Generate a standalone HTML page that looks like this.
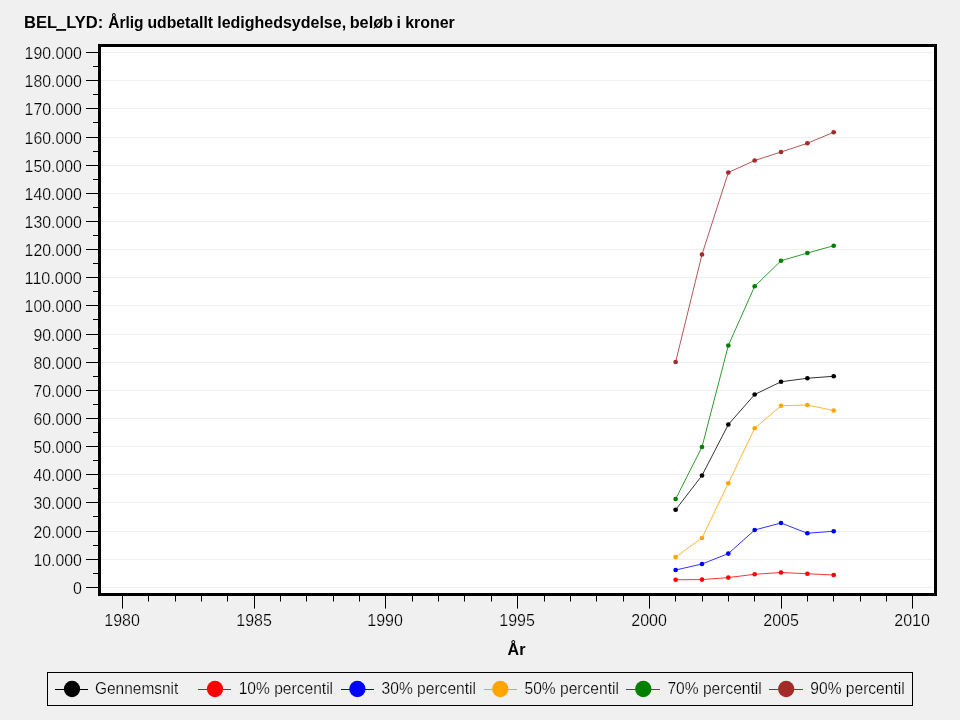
<!DOCTYPE html>
<html><head><meta charset="utf-8"><title>BEL_LYD</title>
<style>
html,body{margin:0;padding:0;background:#f0f0f0;}
svg{display:block;font-family:"Liberation Sans",sans-serif;}
</style></head><body>
<svg width="960" height="720" viewBox="0 0 960 720">
<rect x="0" y="0" width="960" height="720" fill="#f0f0f0"/>
<rect x="99.5" y="45.5" width="836" height="549" fill="#ffffff" stroke="#000" stroke-width="3" shape-rendering="crispEdges"/>

<g stroke="#edf0ed" stroke-width="1" shape-rendering="crispEdges">
<line x1="101" x2="933" y1="587.5" y2="587.5"/>
<line x1="101" x2="933" y1="559.5" y2="559.5"/>
<line x1="101" x2="933" y1="531.5" y2="531.5"/>
<line x1="101" x2="933" y1="502.5" y2="502.5"/>
<line x1="101" x2="933" y1="474.5" y2="474.5"/>
<line x1="101" x2="933" y1="446.5" y2="446.5"/>
<line x1="101" x2="933" y1="418.5" y2="418.5"/>
<line x1="101" x2="933" y1="390.5" y2="390.5"/>
<line x1="101" x2="933" y1="362.5" y2="362.5"/>
<line x1="101" x2="933" y1="334.5" y2="334.5"/>
<line x1="101" x2="933" y1="305.5" y2="305.5"/>
<line x1="101" x2="933" y1="277.5" y2="277.5"/>
<line x1="101" x2="933" y1="249.5" y2="249.5"/>
<line x1="101" x2="933" y1="221.5" y2="221.5"/>
<line x1="101" x2="933" y1="193.5" y2="193.5"/>
<line x1="101" x2="933" y1="165.5" y2="165.5"/>
<line x1="101" x2="933" y1="137.5" y2="137.5"/>
<line x1="101" x2="933" y1="108.5" y2="108.5"/>
<line x1="101" x2="933" y1="80.5" y2="80.5"/>
<line x1="101" x2="933" y1="52.5" y2="52.5"/>
</g>
<g stroke="#000" stroke-width="1" shape-rendering="crispEdges">
<line x1="86" x2="98" y1="587.5" y2="587.5"/>
<line x1="93" x2="98" y1="573.5" y2="573.5"/>
<line x1="86" x2="98" y1="559.5" y2="559.5"/>
<line x1="93" x2="98" y1="545.5" y2="545.5"/>
<line x1="86" x2="98" y1="531.5" y2="531.5"/>
<line x1="93" x2="98" y1="516.5" y2="516.5"/>
<line x1="86" x2="98" y1="502.5" y2="502.5"/>
<line x1="93" x2="98" y1="488.5" y2="488.5"/>
<line x1="86" x2="98" y1="474.5" y2="474.5"/>
<line x1="93" x2="98" y1="460.5" y2="460.5"/>
<line x1="86" x2="98" y1="446.5" y2="446.5"/>
<line x1="93" x2="98" y1="432.5" y2="432.5"/>
<line x1="86" x2="98" y1="418.5" y2="418.5"/>
<line x1="93" x2="98" y1="404.5" y2="404.5"/>
<line x1="86" x2="98" y1="390.5" y2="390.5"/>
<line x1="93" x2="98" y1="376.5" y2="376.5"/>
<line x1="86" x2="98" y1="362.5" y2="362.5"/>
<line x1="93" x2="98" y1="348.5" y2="348.5"/>
<line x1="86" x2="98" y1="334.5" y2="334.5"/>
<line x1="93" x2="98" y1="319.5" y2="319.5"/>
<line x1="86" x2="98" y1="305.5" y2="305.5"/>
<line x1="93" x2="98" y1="291.5" y2="291.5"/>
<line x1="86" x2="98" y1="277.5" y2="277.5"/>
<line x1="93" x2="98" y1="263.5" y2="263.5"/>
<line x1="86" x2="98" y1="249.5" y2="249.5"/>
<line x1="93" x2="98" y1="235.5" y2="235.5"/>
<line x1="86" x2="98" y1="221.5" y2="221.5"/>
<line x1="93" x2="98" y1="207.5" y2="207.5"/>
<line x1="86" x2="98" y1="193.5" y2="193.5"/>
<line x1="93" x2="98" y1="179.5" y2="179.5"/>
<line x1="86" x2="98" y1="165.5" y2="165.5"/>
<line x1="93" x2="98" y1="151.5" y2="151.5"/>
<line x1="86" x2="98" y1="137.5" y2="137.5"/>
<line x1="93" x2="98" y1="122.5" y2="122.5"/>
<line x1="86" x2="98" y1="108.5" y2="108.5"/>
<line x1="93" x2="98" y1="94.5" y2="94.5"/>
<line x1="86" x2="98" y1="80.5" y2="80.5"/>
<line x1="93" x2="98" y1="66.5" y2="66.5"/>
<line x1="86" x2="98" y1="52.5" y2="52.5"/>
<line x1="122.5" x2="122.5" y1="596" y2="608.6" shape-rendering="auto"/>
<line x1="148.5" x2="148.5" y1="596" y2="601.5" shape-rendering="auto"/>
<line x1="175.5" x2="175.5" y1="596" y2="601.5" shape-rendering="auto"/>
<line x1="201.5" x2="201.5" y1="596" y2="601.5" shape-rendering="auto"/>
<line x1="227.5" x2="227.5" y1="596" y2="601.5" shape-rendering="auto"/>
<line x1="254.5" x2="254.5" y1="596" y2="608.6" shape-rendering="auto"/>
<line x1="280.5" x2="280.5" y1="596" y2="601.5" shape-rendering="auto"/>
<line x1="306.5" x2="306.5" y1="596" y2="601.5" shape-rendering="auto"/>
<line x1="333.5" x2="333.5" y1="596" y2="601.5" shape-rendering="auto"/>
<line x1="359.5" x2="359.5" y1="596" y2="601.5" shape-rendering="auto"/>
<line x1="385.5" x2="385.5" y1="596" y2="608.6" shape-rendering="auto"/>
<line x1="412.5" x2="412.5" y1="596" y2="601.5" shape-rendering="auto"/>
<line x1="438.5" x2="438.5" y1="596" y2="601.5" shape-rendering="auto"/>
<line x1="464.5" x2="464.5" y1="596" y2="601.5" shape-rendering="auto"/>
<line x1="491.5" x2="491.5" y1="596" y2="601.5" shape-rendering="auto"/>
<line x1="517.5" x2="517.5" y1="596" y2="608.6" shape-rendering="auto"/>
<line x1="544.5" x2="544.5" y1="596" y2="601.5" shape-rendering="auto"/>
<line x1="570.5" x2="570.5" y1="596" y2="601.5" shape-rendering="auto"/>
<line x1="596.5" x2="596.5" y1="596" y2="601.5" shape-rendering="auto"/>
<line x1="623.5" x2="623.5" y1="596" y2="601.5" shape-rendering="auto"/>
<line x1="649.5" x2="649.5" y1="596" y2="608.6" shape-rendering="auto"/>
<line x1="675.5" x2="675.5" y1="596" y2="601.5" shape-rendering="auto"/>
<line x1="702.5" x2="702.5" y1="596" y2="601.5" shape-rendering="auto"/>
<line x1="728.5" x2="728.5" y1="596" y2="601.5" shape-rendering="auto"/>
<line x1="754.5" x2="754.5" y1="596" y2="601.5" shape-rendering="auto"/>
<line x1="781.5" x2="781.5" y1="596" y2="608.6" shape-rendering="auto"/>
<line x1="807.5" x2="807.5" y1="596" y2="601.5" shape-rendering="auto"/>
<line x1="833.5" x2="833.5" y1="596" y2="601.5" shape-rendering="auto"/>
<line x1="860.5" x2="860.5" y1="596" y2="601.5" shape-rendering="auto"/>
<line x1="886.5" x2="886.5" y1="596" y2="601.5" shape-rendering="auto"/>
<line x1="912.5" x2="912.5" y1="596" y2="608.6" shape-rendering="auto"/>
</g>
<g font-size="16" fill="#000" text-anchor="end" stroke="#f0f0f0" stroke-width="0.22">
<text x="81.8" y="594.00" textLength="8.9" lengthAdjust="spacingAndGlyphs">0</text>
<text x="81.8" y="566.00" textLength="48.4" lengthAdjust="spacingAndGlyphs">10.000</text>
<text x="81.8" y="538.00" textLength="48.4" lengthAdjust="spacingAndGlyphs">20.000</text>
<text x="81.8" y="509.00" textLength="48.4" lengthAdjust="spacingAndGlyphs">30.000</text>
<text x="81.8" y="481.00" textLength="48.4" lengthAdjust="spacingAndGlyphs">40.000</text>
<text x="81.8" y="453.00" textLength="48.4" lengthAdjust="spacingAndGlyphs">50.000</text>
<text x="81.8" y="425.00" textLength="48.4" lengthAdjust="spacingAndGlyphs">60.000</text>
<text x="81.8" y="397.00" textLength="48.4" lengthAdjust="spacingAndGlyphs">70.000</text>
<text x="81.8" y="369.00" textLength="48.4" lengthAdjust="spacingAndGlyphs">80.000</text>
<text x="81.8" y="341.00" textLength="48.4" lengthAdjust="spacingAndGlyphs">90.000</text>
<text x="81.8" y="312.00" textLength="57.2" lengthAdjust="spacingAndGlyphs">100.000</text>
<text x="81.8" y="284.00" textLength="57.2" lengthAdjust="spacingAndGlyphs">110.000</text>
<text x="81.8" y="256.00" textLength="57.2" lengthAdjust="spacingAndGlyphs">120.000</text>
<text x="81.8" y="228.00" textLength="57.2" lengthAdjust="spacingAndGlyphs">130.000</text>
<text x="81.8" y="200.00" textLength="57.2" lengthAdjust="spacingAndGlyphs">140.000</text>
<text x="81.8" y="172.00" textLength="57.2" lengthAdjust="spacingAndGlyphs">150.000</text>
<text x="81.8" y="144.00" textLength="57.2" lengthAdjust="spacingAndGlyphs">160.000</text>
<text x="81.8" y="115.00" textLength="57.2" lengthAdjust="spacingAndGlyphs">170.000</text>
<text x="81.8" y="87.00" textLength="57.2" lengthAdjust="spacingAndGlyphs">180.000</text>
<text x="81.8" y="59.00" textLength="57.2" lengthAdjust="spacingAndGlyphs">190.000</text>
</g>
<g font-size="16" fill="#000" text-anchor="middle" stroke="#f0f0f0" stroke-width="0.22">
<text x="122.10" y="626">1980</text>
<text x="254.10" y="626">1985</text>
<text x="385.10" y="626">1990</text>
<text x="517.10" y="626">1995</text>
<text x="649.10" y="626">2000</text>
<text x="781.10" y="626">2005</text>
<text x="912.10" y="626">2010</text>
</g>
<g font-size="16" font-weight="bold" fill="#000">
<text x="24" y="27.8" textLength="79.3" lengthAdjust="spacingAndGlyphs">BEL_LYD:</text>
<text x="108.2" y="27.8" textLength="35.35" lengthAdjust="spacingAndGlyphs">Årlig</text>
<text x="147.4" y="27.8" textLength="65.7" lengthAdjust="spacingAndGlyphs">udbetallt</text>
<text x="217.2" y="27.8" textLength="128.9" lengthAdjust="spacingAndGlyphs">ledighedsydelse,</text>
<text x="349.7" y="27.8" textLength="43.3" lengthAdjust="spacingAndGlyphs">beløb</text>
<text x="396.4" y="27.8" textLength="4.45" lengthAdjust="spacingAndGlyphs">i</text>
<text x="405.2" y="27.8" textLength="49.6" lengthAdjust="spacingAndGlyphs">kroner</text>
</g>
<rect x="56" y="29.2" width="10" height="1.6" fill="#000"/>
<text x="516.5" y="655" font-size="16" font-weight="bold" text-anchor="middle">År</text>
<polyline points="675.64,509.75 701.99,475.5 728.33,424.5 754.68,394.5 781.02,381.75 807.37,378.25 833.71,376.25" fill="none" stroke="#000000" stroke-width="1" stroke-opacity="0.8"/>
<circle cx="675.64" cy="509.75" r="2.35" fill="#000000"/>
<circle cx="701.99" cy="475.5" r="2.35" fill="#000000"/>
<circle cx="728.33" cy="424.5" r="2.35" fill="#000000"/>
<circle cx="754.68" cy="394.5" r="2.35" fill="#000000"/>
<circle cx="781.02" cy="381.75" r="2.35" fill="#000000"/>
<circle cx="807.37" cy="378.25" r="2.35" fill="#000000"/>
<circle cx="833.71" cy="376.25" r="2.35" fill="#000000"/>
<polyline points="675.64,579.75 701.99,579.6 728.33,577.6 754.68,574.25 781.02,572.5 807.37,573.75 833.71,575" fill="none" stroke="#ff0000" stroke-width="1" stroke-opacity="0.8"/>
<circle cx="675.64" cy="579.75" r="2.35" fill="#ff0000"/>
<circle cx="701.99" cy="579.6" r="2.35" fill="#ff0000"/>
<circle cx="728.33" cy="577.6" r="2.35" fill="#ff0000"/>
<circle cx="754.68" cy="574.25" r="2.35" fill="#ff0000"/>
<circle cx="781.02" cy="572.5" r="2.35" fill="#ff0000"/>
<circle cx="807.37" cy="573.75" r="2.35" fill="#ff0000"/>
<circle cx="833.71" cy="575" r="2.35" fill="#ff0000"/>
<polyline points="675.64,570 701.99,564 728.33,553.6 754.68,530 781.02,523 807.37,533.25 833.71,531.25" fill="none" stroke="#0000ff" stroke-width="1" stroke-opacity="0.8"/>
<circle cx="675.64" cy="570" r="2.35" fill="#0000ff"/>
<circle cx="701.99" cy="564" r="2.35" fill="#0000ff"/>
<circle cx="728.33" cy="553.6" r="2.35" fill="#0000ff"/>
<circle cx="754.68" cy="530" r="2.35" fill="#0000ff"/>
<circle cx="781.02" cy="523" r="2.35" fill="#0000ff"/>
<circle cx="807.37" cy="533.25" r="2.35" fill="#0000ff"/>
<circle cx="833.71" cy="531.25" r="2.35" fill="#0000ff"/>
<polyline points="675.64,557 701.99,538 728.33,483.25 754.68,428.25 781.02,405.75 807.37,405 833.71,410.5" fill="none" stroke="#ffa500" stroke-width="1" stroke-opacity="0.8"/>
<circle cx="675.64" cy="557" r="2.35" fill="#ffa500"/>
<circle cx="701.99" cy="538" r="2.35" fill="#ffa500"/>
<circle cx="728.33" cy="483.25" r="2.35" fill="#ffa500"/>
<circle cx="754.68" cy="428.25" r="2.35" fill="#ffa500"/>
<circle cx="781.02" cy="405.75" r="2.35" fill="#ffa500"/>
<circle cx="807.37" cy="405" r="2.35" fill="#ffa500"/>
<circle cx="833.71" cy="410.5" r="2.35" fill="#ffa500"/>
<polyline points="675.64,499 701.99,447 728.33,345.5 754.68,286.25 781.02,260.75 807.37,253 833.71,245.75" fill="none" stroke="#008000" stroke-width="1" stroke-opacity="0.8"/>
<circle cx="675.64" cy="499" r="2.35" fill="#008000"/>
<circle cx="701.99" cy="447" r="2.35" fill="#008000"/>
<circle cx="728.33" cy="345.5" r="2.35" fill="#008000"/>
<circle cx="754.68" cy="286.25" r="2.35" fill="#008000"/>
<circle cx="781.02" cy="260.75" r="2.35" fill="#008000"/>
<circle cx="807.37" cy="253" r="2.35" fill="#008000"/>
<circle cx="833.71" cy="245.75" r="2.35" fill="#008000"/>
<polyline points="675.64,362 701.99,254.5 728.33,172.5 754.68,160.5 781.02,152 807.37,143.25 833.71,132.25" fill="none" stroke="#a52a2a" stroke-width="1" stroke-opacity="0.8"/>
<circle cx="675.64" cy="362" r="2.35" fill="#a52a2a"/>
<circle cx="701.99" cy="254.5" r="2.35" fill="#a52a2a"/>
<circle cx="728.33" cy="172.5" r="2.35" fill="#a52a2a"/>
<circle cx="754.68" cy="160.5" r="2.35" fill="#a52a2a"/>
<circle cx="781.02" cy="152" r="2.35" fill="#a52a2a"/>
<circle cx="807.37" cy="143.25" r="2.35" fill="#a52a2a"/>
<circle cx="833.71" cy="132.25" r="2.35" fill="#a52a2a"/>
<rect x="47.5" y="672.5" width="865" height="33" fill="#f0f0f0" stroke="#000" stroke-width="1" shape-rendering="crispEdges"/>
<rect x="55" y="689" width="33" height="1" fill="#000000" shape-rendering="crispEdges"/>
<circle cx="72.0" cy="689" r="8.15" fill="#000000"/>
<text x="95.0" y="694" font-size="16" textLength="83.3" lengthAdjust="spacingAndGlyphs" stroke="#f0f0f0" stroke-width="0.22">Gennemsnit</text>
<rect x="198" y="689" width="33" height="1" fill="#ff0000" shape-rendering="crispEdges"/>
<circle cx="215.0" cy="689" r="8.15" fill="#ff0000"/>
<text x="238.7" y="694" font-size="16" textLength="94.4" lengthAdjust="spacingAndGlyphs" stroke="#f0f0f0" stroke-width="0.22">10% percentil</text>
<rect x="341" y="689" width="33" height="1" fill="#0000ff" shape-rendering="crispEdges"/>
<circle cx="357.4" cy="689" r="8.15" fill="#0000ff"/>
<text x="381.6" y="694" font-size="16" textLength="94.4" lengthAdjust="spacingAndGlyphs" stroke="#f0f0f0" stroke-width="0.22">30% percentil</text>
<rect x="484" y="689" width="33" height="1" fill="#ffa500" shape-rendering="crispEdges"/>
<circle cx="500.3" cy="689" r="8.15" fill="#ffa500"/>
<text x="524.5" y="694" font-size="16" textLength="94.4" lengthAdjust="spacingAndGlyphs" stroke="#f0f0f0" stroke-width="0.22">50% percentil</text>
<rect x="626" y="689" width="34" height="1" fill="#008000" shape-rendering="crispEdges"/>
<circle cx="643.3" cy="689" r="8.15" fill="#008000"/>
<text x="667.4" y="694" font-size="16" textLength="94.4" lengthAdjust="spacingAndGlyphs" stroke="#f0f0f0" stroke-width="0.22">70% percentil</text>
<rect x="769" y="689" width="34" height="1" fill="#a52a2a" shape-rendering="crispEdges"/>
<circle cx="786.2" cy="689" r="8.15" fill="#a52a2a"/>
<text x="810.3" y="694" font-size="16" textLength="94.4" lengthAdjust="spacingAndGlyphs" stroke="#f0f0f0" stroke-width="0.22">90% percentil</text>
</svg></body></html>
